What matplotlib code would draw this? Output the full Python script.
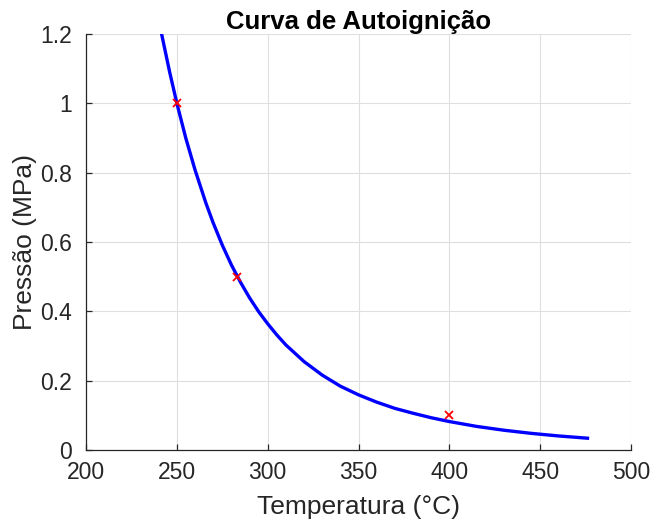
import numpy as np
import matplotlib
matplotlib.use('Agg')
import matplotlib.pyplot as plt

# fitted curve
temperatura = [241.6, 246, 250, 255, 260, 266, 270, 275, 280, 285, 290, 295,
               300, 305, 310, 320, 330, 340, 350, 360, 370, 380, 390, 400,
               415, 430, 445, 460, 476]
pressao = [1.2, 1.091, 1.0, 0.898, 0.808, 0.712, 0.655, 0.591, 0.534, 0.484,
           0.439, 0.399, 0.364, 0.332, 0.303, 0.255, 0.216, 0.184, 0.159,
           0.138, 0.120, 0.106, 0.093, 0.082, 0.068, 0.057, 0.048, 0.0405,
           0.034]

# measured points
temp_pts = [250, 283, 400]
pres_pts = [1.0, 0.5, 0.1]

x_ticks = [200, 250, 300, 350, 400, 450, 500]
y_ticks = [0, 0.2, 0.4, 0.6, 0.8, 1.0, 1.2]
y_labels = ['0', '0.2', '0.4', '0.6', '0.8', '1', '1.2']

plt.rcParams['font.family'] = ['Liberation Sans', 'DejaVu Sans']
dark = '#262626'

fig = plt.figure(figsize=(6.54, 5.26), dpi=100)
ax = fig.add_axes([0.1315, 0.1445, 0.8335, 0.791])

ax.plot(temperatura, pressao, color='#0000ff', linewidth=2.4, zorder=3,
        solid_joinstyle='round')
ax.plot(temp_pts, pres_pts, 'x', color='#ff0000', markersize=6,
        markeredgewidth=1.3, zorder=4)

ax.set_xlim(200, 500)
ax.set_ylim(0, 1.2)
ax.set_xticks(x_ticks)
ax.set_yticks(y_ticks)
ax.set_yticklabels(y_labels)

ax.grid(True, color='#dfdfdf', linewidth=0.8)
ax.set_axisbelow(True)
for s in ['top', 'right']:
    ax.spines[s].set_visible(False)
for s in ['left', 'bottom']:
    ax.spines[s].set_color(dark)
    ax.spines[s].set_linewidth(0.9)

ax.tick_params(direction='in', length=4, width=0.9, colors=dark,
               labelsize=16.5)
ax.tick_params(axis='x', pad=8)
ax.tick_params(axis='y', pad=10)

ax.set_xlabel('Temperatura (°C)', fontsize=19, color=dark, labelpad=8)
ax.set_ylabel('Pressão (MPa)', fontsize=19, color=dark, labelpad=2)
ax.set_title('Curva de Autoignição', fontsize=18.5, fontweight='bold',
             color='black', pad=3)

fig.savefig('out.png', dpi=100)
